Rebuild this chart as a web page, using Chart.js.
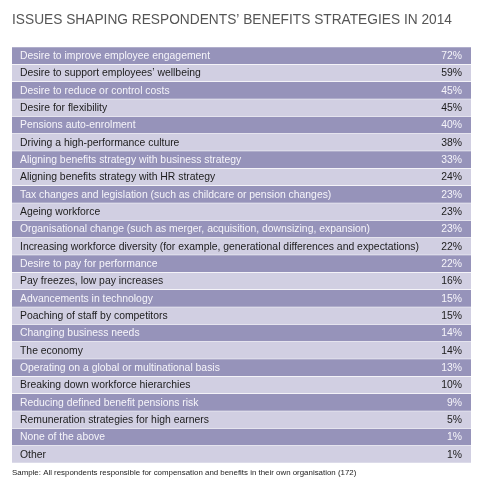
<!DOCTYPE html>
<html>
<head>
<meta charset="utf-8">
<script src="https://cdn.jsdelivr.net/npm/chart.js@4"></script>
<style>
  html, body { margin: 0; padding: 0; background: #fff; }
  #wrap { width: 480px; height: 494px; position: relative; }
</style>
</head>
<body>
<div id="wrap"><canvas id="issuesChart"></canvas></div>
<script>
const titleText = 'ISSUES SHAPING RESPONDENTS\u2019 BENEFITS STRATEGIES IN 2014';
const footText = 'Sample: All respondents responsible for compensation and benefits in their own organisation (172)';

const issues = [
  'Desire to improve employee engagement',
  'Desire to support employees\u2019 wellbeing',
  'Desire to reduce or control costs',
  'Desire for flexibility',
  'Pensions auto-enrolment',
  'Driving a high-performance culture',
  'Aligning benefits strategy with business strategy',
  'Aligning benefits strategy with HR strategy',
  'Tax changes and legislation (such as childcare or pension changes)',
  'Ageing workforce',
  'Organisational change (such as merger, acquisition, downsizing, expansion)',
  'Increasing workforce diversity (for example, generational differences and expectations)',
  'Desire to pay for performance',
  'Pay freezes, low pay increases',
  'Advancements in technology',
  'Poaching of staff by competitors',
  'Changing business needs',
  'The economy',
  'Operating on a global or multinational basis',
  'Breaking down workforce hierarchies',
  'Reducing defined benefit pensions risk',
  'Remuneration strategies for high earners',
  'None of the above',
  'Other'
];
const shares = [72, 59, 45, 45, 40, 38, 33, 24, 23, 23, 23, 22, 22, 16, 15, 15, 14, 14, 13, 10, 9, 5, 1, 1];

const darkRow = '#9693ba';
const lightRow = '#d1cfe2';

// text for the rows, title and sample note
const tableText = {
  id: 'tableText',
  afterDatasetsDraw(chart) {
    const { ctx, chartArea, scales } = chart;
    ctx.save();
    ctx.textBaseline = 'middle';
    ctx.font = '10.4px "Liberation Sans", Arial, sans-serif';
    issues.forEach((label, i) => {
      const y = scales.y.getPixelForValue(i) + 0.5;
      ctx.fillStyle = i % 2 === 0 ? '#f6f5fa' : '#1c1c1c';
      ctx.textAlign = 'left';
      ctx.fillText(label, chartArea.left + 8, y);
      ctx.textAlign = 'right';
      ctx.fillText(shares[i] + '%', chartArea.right - 9, y);
    });
    ctx.textAlign = 'left';
    ctx.fillStyle = '#555';
    ctx.font = '14.8px "Liberation Sans", Arial, sans-serif';
    ctx.fillText(titleText, chartArea.left, 20, 440);
    ctx.fillStyle = '#222';
    ctx.font = '7.9px "Liberation Sans", Arial, sans-serif';
    ctx.fillText(footText, chartArea.left, chartArea.bottom + 10, 345);
    ctx.restore();
  }
};

new Chart(document.getElementById('issuesChart'), {
  type: 'bar',
  data: {
    labels: issues,
    datasets: [{
      data: issues.map(() => [0, 1]),
      backgroundColor: issues.map((_, i) => i % 2 === 0 ? darkRow : lightRow),
      barPercentage: 1,
      categoryPercentage: 0.96,
      borderWidth: 0
    }]
  },
  options: {
    indexAxis: 'y',
    responsive: true,
    maintainAspectRatio: false,
    animation: false,
    layout: { padding: { left: 12, right: 9, top: 47, bottom: 31 } },
    plugins: { legend: { display: false }, tooltip: { enabled: false }, title: { display: false } },
    scales: {
      x: { display: false, min: 0, max: 1 },
      y: { display: false }
    }
  },
  plugins: [tableText]
});
</script>
</body>
</html>
